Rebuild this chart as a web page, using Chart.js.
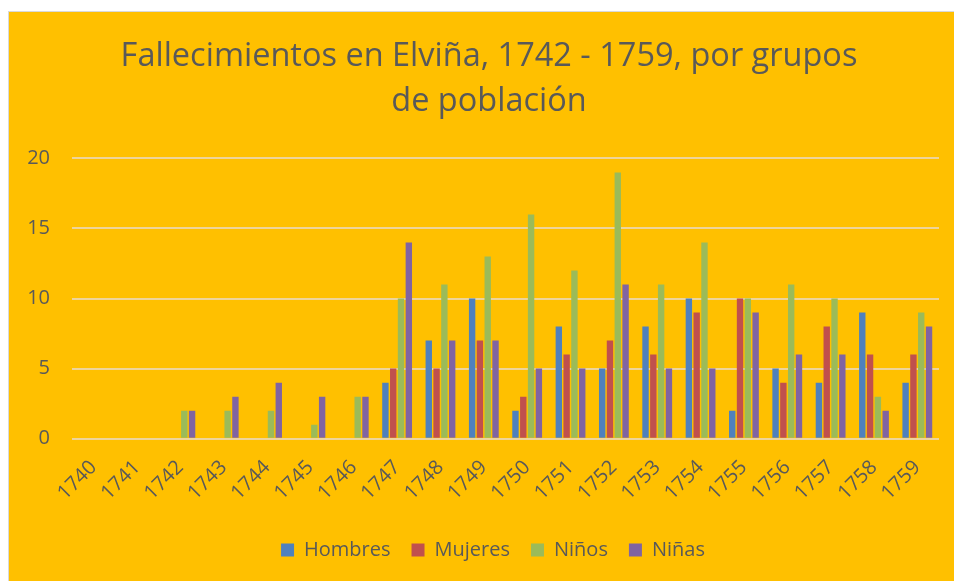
<!DOCTYPE html>
<html>
<head>
<meta charset="utf-8">
<script src="https://cdn.jsdelivr.net/npm/chart.js@4.4.0/dist/chart.umd.min.js"></script>
<style>
  html, body { margin: 0; padding: 0; background: #fff; overflow: hidden; }
  #wrap {
    position: absolute; left: 8px; top: 11px;
    width: 946px; height: 570px;
    background: #FFC000;
    border-left: 1px solid #d9d9d9; border-top: 1px solid #d9d9d9;
  }
</style>
</head>
<body>
<div id="wrap"><canvas id="chart" width="946" height="570"></canvas></div>
<script>
// Data
const years = ['1740', '1741', '1742', '1743', '1744', '1745', '1746', '1747', '1748', '1749',
               '1750', '1751', '1752', '1753', '1754', '1755', '1756', '1757', '1758', '1759'];
const hombres = [0, 0, 0, 0, 0, 0, 0, 4, 7, 10, 2, 8, 5, 8, 10, 2, 5, 4, 9, 4];
const mujeres = [0, 0, 0, 0, 0, 0, 0, 5, 5, 7, 3, 6, 7, 6, 9, 10, 4, 8, 6, 6];
const ninos   = [0, 0, 2, 2, 2, 1, 3, 10, 11, 13, 16, 12, 19, 11, 14, 10, 11, 10, 3, 9];
const ninas   = [0, 0, 2, 3, 4, 3, 3, 14, 7, 7, 5, 5, 11, 5, 5, 9, 6, 6, 2, 8];
const yTicks = [0, 5, 10, 15, 20];

const textColor = '#595959';
const gridColor = '#EED49A';
const legendPad = 21;

function series(label, data, color){
  return {
    label: label,
    data: data,
    backgroundColor: color,
    borderColor: color,
    borderWidth: 0,
    categoryPercentage: 0.72,
    barPercentage: 0.82
  };
}

// Excel centres title and legend a little right of the plot; nudge them
const nudgeBlocks = {
  id: 'nudgeBlocks',
  afterLayout(chart){
    const t = chart.titleBlock;
    t.left += 6; t.right += 6;
    const l = chart.legend;
    l.left += 10; l.right += 10;
    l.top = 538 - legendPad - 10;
    l.bottom = l.top + l.height;
  }
};

new Chart(document.getElementById('chart').getContext('2d'), {
  type: 'bar',
  data: {
    labels: years,
    datasets: [
      series('Hombres', hombres, '#4F81BD'),
      series('Mujeres', mujeres, '#C0504D'),
      series('Niños', ninos, '#9BBB59'),
      series('Niñas', ninas, '#8064A2')
    ]
  },
  plugins: [nudgeBlocks],
  options: {
    responsive: false,
    animation: false,
    layout: { padding: { left: 18, right: 16, top: 10, bottom: 0 } },
    plugins: {
      title: {
        display: true,
        text: ['Fallecimientos en Elviña, 1742 - 1759, por grupos', 'de población'],
        color: textColor,
        font: { family: 'Open Sans', size: 32.5, weight: 'normal', lineHeight: 1.36 },
        padding: { top: 13, bottom: 35 }
      },
      legend: {
        position: 'bottom',
        labels: {
          color: textColor,
          font: { family: 'Open Sans', size: 20 },
          boxWidth: 13,
          boxHeight: 13,
          padding: legendPad
        }
      },
      tooltip: { enabled: false }
    },
    scales: {
      x: {
        grid: { display: false },
        border: { display: false },
        afterFit: function(axis){
          axis.paddingLeft = 0;
          axis.height += 17;
        },
        ticks: {
          color: textColor,
          font: { family: 'Open Sans', size: 20 },
          padding: 9,
          minRotation: 45,
          maxRotation: 45,
          autoSkip: false
        }
      },
      y: {
        min: 0,
        max: 20,
        afterBuildTicks: function(axis){
          axis.ticks = yTicks.map(v => ({ value: v }));
        },
        afterFit: function(axis){
          axis.width = 45;
        },
        grid: { color: gridColor, lineWidth: 2, drawTicks: false },
        border: { display: false },
        ticks: {
          color: textColor,
          font: { family: 'Open Sans', size: 20 },
          padding: 22
        }
      }
    }
  }
});
</script>
</body>
</html>
